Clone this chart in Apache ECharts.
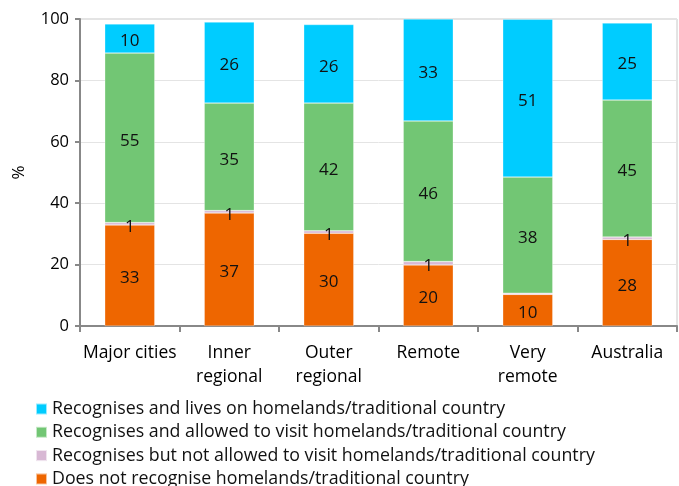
<!DOCTYPE html>
<html><head><meta charset="utf-8">
<script src="https://cdn.jsdelivr.net/npm/echarts@6/dist/echarts.min.js"></script>
<style>html,body{margin:0;padding:0;background:#fff}#c{width:679px;height:486px}</style>
</head><body><div id="c"></div>
<script>
const categories = ['Major cities', 'Inner\nregional', 'Outer\nregional', 'Remote', 'Very\nremote', 'Australia'];
const doesNotRecognise = [32.9, 36.8, 30.2, 19.9, 10.3, 28.2];
const notAllowedVisit = [0.8, 0.8, 0.8, 1.1, 0.4, 0.8];
const allowedVisit = [55.2, 35.0, 41.6, 45.8, 37.8, 44.6];
const livesOn = [9.5, 26.4, 25.6, 33.2, 51.4, 25.1];
const yTicks = [0, 20, 40, 60, 80, 100];

const font = '"Open Sans", "Liberation Sans", sans-serif';
const lbl = {
  show: true, position: 'inside', offset: [0, 3], color: '#111', fontSize: 17, fontFamily: font,
  formatter: p => { const r = Math.round(p.value); return r === 0 ? '' : String(r); }
};
function s(name, data, color) {
  return { name, type: 'bar', stack: 'a', data, barWidth: 50,
    itemStyle: { color, borderColor: 'rgba(255,255,255,0.6)', borderWidth: 0.5 },
    label: lbl };
}
const chart = echarts.init(document.getElementById('c'));
chart.setOption({
  animation: false,
  grid: { left: 80, right: 2, top: 19, bottom: 160, show: true, borderColor: '#c8c8c8', borderWidth: 1,
    containLabel: false, outerBoundsMode: 'none' },
  xAxis: { type: 'category', data: categories,
    axisLine: { lineStyle: { color: '#888', width: 2 } },
    axisTick: { show: true, length: 6, alignWithLabel: false, lineStyle: { color: '#888', width: 2 } },
    axisLabel: { interval: 0, color: '#000', fontSize: 17.5, fontFamily: font, lineHeight: 24, margin: 15 } },
  yAxis: { type: 'value', min: yTicks[0], max: yTicks[yTicks.length - 1], interval: 20,
    name: '%', nameLocation: 'middle', nameGap: 52, nameRotate: 90,
    nameTextStyle: { color: '#000', fontSize: 17, fontFamily: font },
    axisLine: { show: true, lineStyle: { color: '#888', width: 2 } },
    axisTick: { show: true, length: 5, lineStyle: { color: '#888', width: 2 } },
    splitLine: { lineStyle: { color: '#e4e4e4' } },
    axisLabel: { color: '#000', fontSize: 16.5, fontFamily: font, margin: 11 } },
  legend: { orient: 'vertical', left: 30, top: 395, height: 100, width: 660, itemGap: 5.3, itemWidth: 11, itemHeight: 11,
    icon: 'rect', textStyle: { color: '#111', fontSize: 17.8, lineHeight: 18, fontFamily: font },
    data: ['Recognises and lives on homelands/traditional country',
           'Recognises and allowed to visit homelands/traditional country',
           'Recognises but not allowed to visit homelands/traditional country',
           'Does not recognise homelands/traditional country'] },
  series: [
    s('Does not recognise homelands/traditional country', doesNotRecognise, '#EE6600'),
    s('Recognises but not allowed to visit homelands/traditional country', notAllowedVisit, '#D8B8D4'),
    s('Recognises and allowed to visit homelands/traditional country', allowedVisit, '#72C674'),
    s('Recognises and lives on homelands/traditional country', livesOn, '#00CCFF')
  ]
});
</script></body></html>
